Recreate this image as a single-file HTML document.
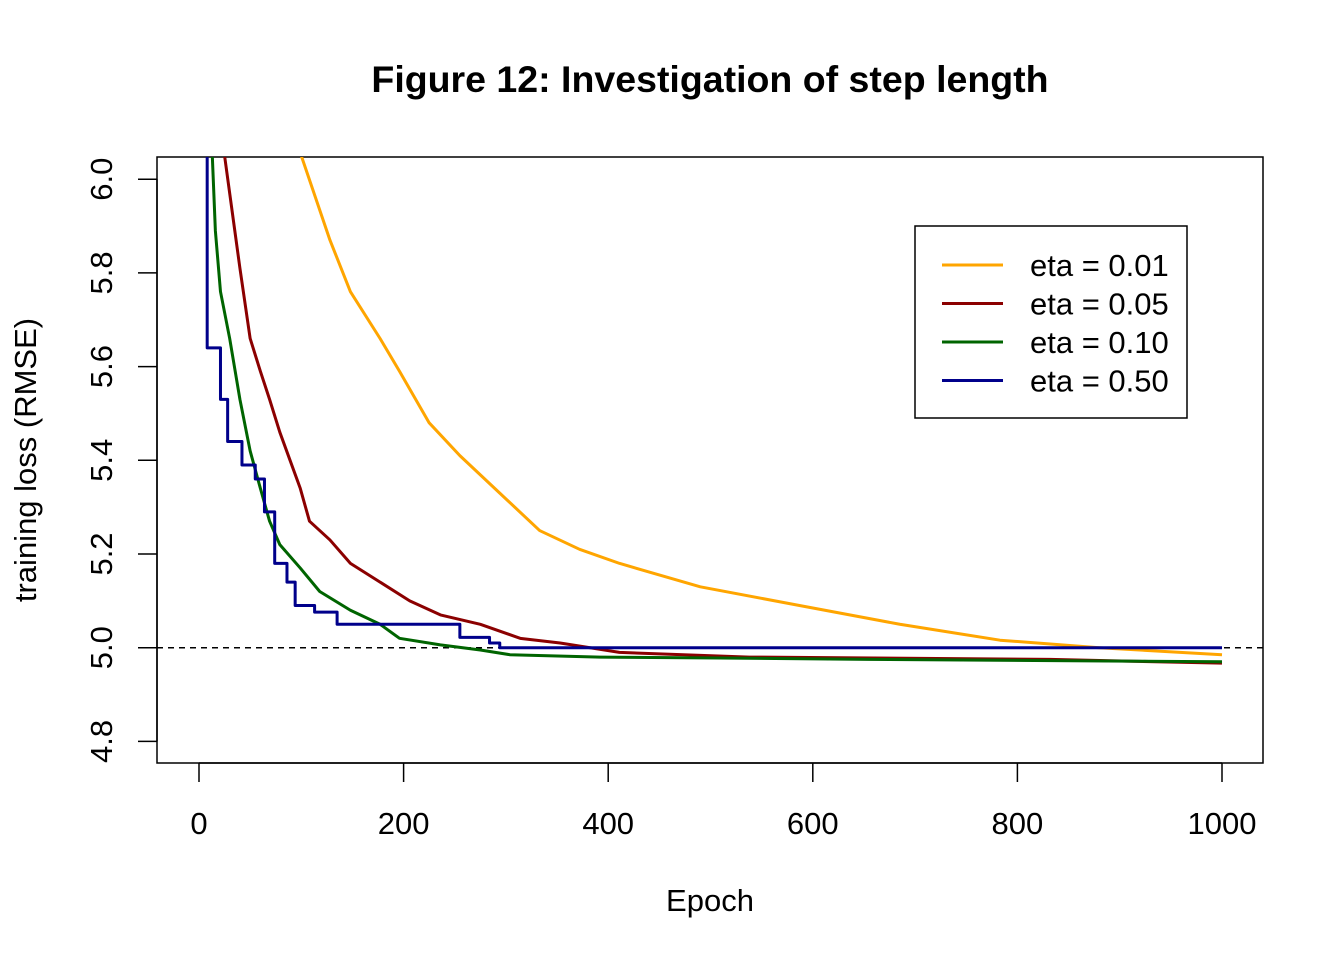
<!DOCTYPE html>
<html><head><meta charset="utf-8"><style>
body{margin:0;background:#fff;}
svg{display:block;font-family:"Liberation Sans",Arial,sans-serif;}
</style></head><body>
<svg id="chart" width="1344" height="960" viewBox="0 0 1344 960">
<defs><clipPath id="clip"><rect x="157" y="157" width="1106" height="606"/></clipPath></defs>
<text x="710" y="92" text-anchor="middle" font-size="37.5" font-weight="bold">Figure 12: Investigation of step length</text>
<rect x="157" y="157" width="1106" height="606" fill="none" stroke="#000" stroke-width="1.5"/>
<text x="710" y="911" text-anchor="middle" font-size="31">Epoch</text>
<text transform="translate(36,460) rotate(-90)" text-anchor="middle" font-size="31">training loss (RMSE)</text>
<g id="axes"></g>
<g id="series" clip-path="url(#clip)"></g>
<g id="legend"></g>
</svg>
<script>
const xTicks=[0,200,400,600,800,1000];
const yTicks=[4.8,5.0,5.2,5.4,5.6,5.8,6.0];
const yTickLabels=["4.8","5.0","5.2","5.4","5.6","5.8","6.0"];
const seriesNames=["eta = 0.01","eta = 0.05","eta = 0.10","eta = 0.50"];
const seriesColors=["#FFA500","#8B0000","#006400","#00008B"];
const seriesStep=[false,false,false,true];
const ep001=[100,128,148,177,196,225,255,294,333,372,411,490,587,685,783,880,1000];
const v001=[6.05,5.87,5.76,5.66,5.59,5.48,5.41,5.33,5.25,5.21,5.18,5.13,5.09,5.05,5.016,5.0,4.985];
const ep005=[25,35,40,50,60,69,79,89,99,108,128,148,177,206,236,275,314,353,411,538,832,1000];
const v005=[6.05,5.89,5.81,5.66,5.59,5.53,5.46,5.40,5.34,5.27,5.23,5.18,5.14,5.10,5.07,5.05,5.02,5.01,4.99,4.98,4.975,4.967];
const ep010=[13,16,21,30,40,50,60,69,79,99,118,148,177,196,236,275,304,392,509,655,1000];
const v010=[6.05,5.89,5.76,5.66,5.53,5.42,5.34,5.27,5.22,5.17,5.12,5.08,5.05,5.02,5.006,4.995,4.985,4.98,4.978,4.975,4.97];
const ep050=[0,7,8,21,28,42,55,64,74,86,94,113,135,255,284,294,1000];
const v050=[7.5,6.05,5.64,5.53,5.44,5.39,5.36,5.29,5.18,5.14,5.09,5.076,5.05,5.022,5.01,5.0,5.0];
const allEp=[ep001,ep005,ep010,ep050], allV=[v001,v005,v010,v050];
const NS="http://www.w3.org/2000/svg";
const X=e=>199+e*(1222-199)/1000;
const Y=v=>647.7-(v-5)*468.5;
function mk(t,a,p){const e=document.createElementNS(NS,t);for(const k in a)e.setAttribute(k,a[k]);p.appendChild(e);return e;}
const ax=document.getElementById('axes');
mk('line',{x1:X(0),x2:X(1000),y1:763,y2:763,stroke:'#000','stroke-width':1.5},ax);
xTicks.forEach(t=>{
 const l=mk('line',{x1:X(t),x2:X(t),y1:763,y2:782,stroke:'#000','stroke-width':1.5},ax);
 
 
 const tx=mk('text',{x:X(t),y:834,'text-anchor':'middle','font-size':31},ax);tx.textContent=t;
 
 
});
mk('line',{x1:157,x2:157,y1:Y(4.8),y2:Y(6.0),stroke:'#000','stroke-width':1.5},ax);
yTicks.forEach((t,i)=>{
 const l=mk('line',{x1:138,x2:157,y1:Y(t),y2:Y(t),stroke:'#000','stroke-width':1.5},ax);
 
 
 const tx=mk('text',{transform:`translate(112,${Y(t)}) rotate(-90)`,'text-anchor':'middle','font-size':31},ax);tx.textContent=yTickLabels[i];
 
 
});
const sg=document.getElementById('series');
const ref=mk('line',{x1:157,x2:1263,y1:Y(5),y2:Y(5),stroke:'#000','stroke-width':1.5,'stroke-dasharray':'6,5'},sg);


allEp.forEach((ep,s)=>{
 const v=allV[s];let d=`M${X(ep[0])},${Y(v[0])}`;
 for(let i=1;i<ep.length;i++){
  if(seriesStep[s]) d+=` H${X(ep[i])} V${Y(v[i])}`;
  else d+=` L${X(ep[i])},${Y(v[i])}`;
 }
 const p=mk('path',{d:d,fill:'none',stroke:seriesColors[s],'stroke-width':3,'stroke-linejoin':'round'},sg);
 
 
});
const lg=document.getElementById('legend');
mk('rect',{x:915,y:226,width:272,height:192,fill:'#fff',stroke:'#000','stroke-width':1.5},lg);
seriesNames.forEach((n,i)=>{
 const y=265+i*38.5;
 const l=mk('line',{x1:942,x2:1003,y1:y,y2:y,stroke:seriesColors[i],'stroke-width':3},lg);
 
 
 const t=mk('text',{x:1030,y:y+11,'font-size':31},lg);t.textContent=n;
 
 
});
</script>
</body></html>
